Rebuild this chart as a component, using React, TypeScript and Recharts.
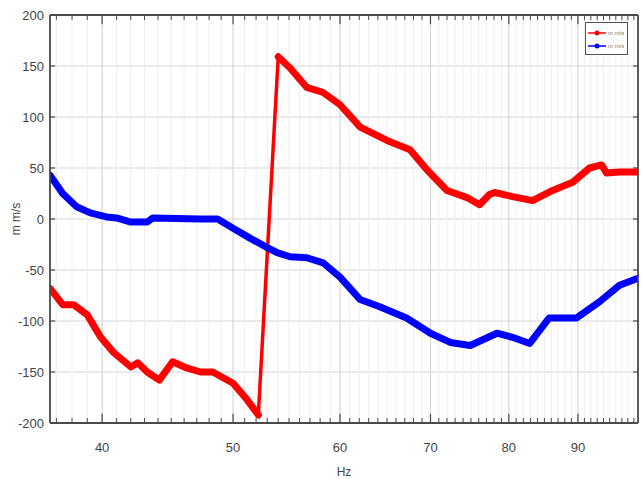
import React from 'react';
import { LineChart, Line, XAxis, YAxis, CartesianGrid, ReferenceLine, Legend } from 'recharts';

const xTicks = [40, 50, 60, 70, 80, 90];
const yTicks = [-200, -150, -100, -50, 0, 50, 100, 150, 200];
const xMin = 36.6;
const xMax = 99.7;
const yMin = -200;
const yMax = 200;

const redFreqLow = [36.6, 37.4, 38.1, 39.0, 39.9, 40.8, 42.0, 42.5, 43.2, 44.1, 45.1, 46.2, 47.3, 48.3, 50.0, 51.2, 52.2];
const redValLow = [-68, -84, -84, -94, -116, -131, -145, -141, -150, -158, -140, -146, -150, -150, -161, -177, -192];
const redFreqHigh = [54.0, 55.1, 56.7, 58.3, 60.0, 62.1, 65.0, 67.6, 69.6, 72.0, 74.5, 76.1, 77.4, 78.1, 80.5, 83.3, 86.2, 89.2, 91.8, 93.7, 94.5, 96.6, 99.7];
const redValHigh = [159, 148, 129, 124, 112, 90, 77, 68, 48, 28, 21, 14, 24, 26, 22, 18, 28, 36, 50, 53, 45, 46, 46];

const blueFreq = [36.6, 37.4, 38.3, 39.2, 40.3, 41.0, 42.0, 43.2, 43.6, 47.3, 48.7, 50.0, 51.5, 53.0, 53.9, 55.1, 56.7, 58.3, 60.0, 62.1, 64.2, 67.2, 70.0, 72.4, 74.9, 78.4, 80.5, 82.9, 85.7, 89.8, 93.4, 96.6, 99.7];
const blueVal = [43, 25, 12, 6, 2, 1, -3, -3, 1, 0, 0, -9, -19, -28, -33, -37, -38, -43, -57, -79, -86, -97, -112, -121, -124, -112, -116, -122, -97, -97, -81, -65, -58];

const seriesNames = ['m m/s', 'm m/s'];

const redLow = redFreqLow.map((x, i) => ({ x, y: redValLow[i] }));
const redHigh = redFreqHigh.map((x, i) => ({ x, y: redValHigh[i] }));
const redAll = [...redLow, ...redHigh];
const blue = blueFreq.map((x, i) => ({ x, y: blueVal[i] }));

// minor (integer) positions of the log axis
const minorX: number[] = [];
for (let v = 37; v <= 99; v++) if (!xTicks.includes(v)) minorX.push(v);

const FONT = "'Liberation Sans Narrow', 'Liberation Sans', Arial, sans-serif";
const AXIS = '#4a4a4a';

const LegendBox = () => (
  <div
    style={{
      width: 43,
      height: 33,
      border: '1.5px solid #555',
      background: '#fff',
      boxSizing: 'border-box',
      fontFamily: FONT,
      fontSize: 6,
      lineHeight: '6px',
      color: '#777',
      paddingTop: 3,
      whiteSpace: 'nowrap',
      overflow: 'hidden',
    }}
  >
    {[['#ff0000', seriesNames[0]], ['#0000ff', seriesNames[1]]].map(([c, n], i) => (
      <div key={i} style={{ display: 'flex', alignItems: 'center', height: 13 }}>
        <svg width={20} height={8} style={{ marginLeft: 1, flex: 'none' }}>
          <line x1={1} y1={4} x2={19} y2={4} stroke={c} strokeWidth={1.5} />
          <circle cx={10} cy={4} r={2.5} fill={c} />
        </svg>
        <span style={{ marginLeft: 1 }}>{n}</span>
      </div>
    ))}
  </div>
);

export default function App() {
  return (
    <div style={{ position: 'absolute', left: 0, top: 0, background: '#fff' }}>
      <LineChart width={643} height={479} margin={{ top: 15, right: 5, bottom: 0, left: 0 }}>
        <XAxis
          xAxisId={0}
          type="number"
          dataKey="x"
          scale="log"
          domain={[xMin, xMax]}
          allowDataOverflow
          ticks={xTicks}
          height={56}
          tickLine={false}
          axisLine={false}
          tickSize={0}
          tickMargin={20}
          tick={{ fontSize: 13, fill: '#444', fontFamily: FONT }}
          label={{ value: 'Hz', position: 'insideBottom', offset: 3, fontSize: 12, fill: '#444', fontFamily: FONT }}
        />
        <YAxis
          yAxisId={0}
          type="number"
          domain={[yMin, yMax]}
          allowDataOverflow
          ticks={yTicks}
          width={50}
          tickLine={false}
          axisLine={false}
          tickSize={0}
          tickMargin={6}
          tick={{ fontSize: 13, fill: '#444', fontFamily: FONT }}
          label={{ value: 'm m/s', angle: -90, position: 'insideLeft', offset: 16, fontSize: 12, fill: '#444', fontFamily: FONT, style: { textAnchor: 'middle' } }}
        />
        {minorX.map((v) => (
          <ReferenceLine key={'g' + v} x={v} stroke="#efefef" strokeWidth={1} />
        ))}
        <CartesianGrid stroke="#d6d6d6" strokeWidth={1.2} />
        {minorX.map((v) => (
          <ReferenceLine key={'b' + v} segment={[{ x: v, y: yMin }, { x: v, y: yMin + 5 }]} stroke={AXIS} strokeWidth={1} />
        ))}
        {minorX.map((v) => (
          <ReferenceLine key={'t' + v} segment={[{ x: v, y: yMax }, { x: v, y: yMax - 5 }]} stroke={AXIS} strokeWidth={1} />
        ))}
        {xTicks.map((v) => (
          <ReferenceLine key={'B' + v} segment={[{ x: v, y: yMin }, { x: v, y: yMin + 9 }]} stroke={AXIS} strokeWidth={1.2} />
        ))}
        {xTicks.map((v) => (
          <ReferenceLine key={'T' + v} segment={[{ x: v, y: yMax }, { x: v, y: yMax - 9 }]} stroke={AXIS} strokeWidth={1.2} />
        ))}
        {yTicks.map((v) => (
          <ReferenceLine key={'L' + v} segment={[{ x: xMin, y: v }, { x: 36.92, y: v }]} stroke={AXIS} strokeWidth={1.2} />
        ))}
        {yTicks.map((v) => (
          <ReferenceLine key={'R' + v} segment={[{ x: 98.85, y: v }, { x: xMax, y: v }]} stroke={AXIS} strokeWidth={1.2} />
        ))}
        <Line data={redAll} dataKey="y" stroke="#ff0000" strokeWidth={3.5} dot={false} isAnimationActive={false} legendType="none" name="jump" />
        <Line data={redLow} dataKey="y" stroke="#ff0000" strokeWidth={7} strokeLinejoin="round" strokeLinecap="round" dot={false} isAnimationActive={false} name={seriesNames[0]} />
        <Line data={redHigh} dataKey="y" stroke="#ff0000" strokeWidth={7} strokeLinejoin="round" strokeLinecap="round" dot={false} isAnimationActive={false} legendType="none" name="red2" />
        <Line data={blue} dataKey="y" stroke="#0000ff" strokeWidth={7} strokeLinejoin="round" strokeLinecap="round" dot={false} isAnimationActive={false} name={seriesNames[1]} />
        <ReferenceLine x={xMin} stroke={AXIS} strokeWidth={1.8} />
        <ReferenceLine x={xMax} stroke={AXIS} strokeWidth={1.8} />
        <ReferenceLine y={yMin} stroke={AXIS} strokeWidth={1.8} />
        <ReferenceLine y={yMax} stroke={AXIS} strokeWidth={1.8} />
        <Legend
          layout="vertical"
          align="center"
          verticalAlign="middle"
          content={() => <LegendBox />}
          wrapperStyle={{ position: 'absolute', left: 585, top: 22, width: 43, height: 33 }}
        />
      </LineChart>
    </div>
  );
}
